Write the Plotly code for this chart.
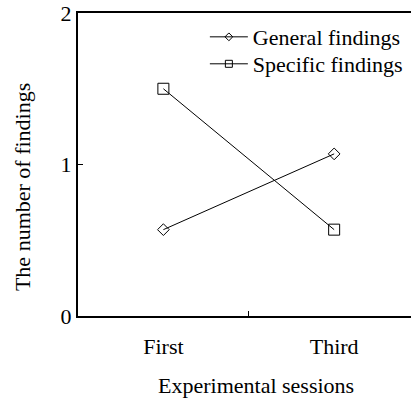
import plotly.graph_objects as go

sessions = ["First", "Third"]
general = [0.57, 1.07]
specific = [1.5, 0.57]
y_ticks = [0, 1, 2]

FONT = "Liberation Serif, Times New Roman, serif"
FS = 22

fig = go.Figure()
fig.add_trace(go.Scatter(x=sessions, y=general, mode="lines+markers", name="General findings",
                         line=dict(color="black", width=1),
                         marker=dict(symbol="diamond-open", size=9, color="black", line=dict(width=1)),
                         showlegend=False))
fig.add_trace(go.Scatter(x=sessions, y=specific, mode="lines+markers", name="Specific findings",
                         line=dict(color="black", width=1),
                         marker=dict(symbol="square-open", size=11, color="black", line=dict(width=1)),
                         showlegend=False))
# legend entries with smaller symbols
fig.add_trace(go.Scatter(x=[None], y=[None], mode="lines+markers", name="General findings",
                         line=dict(color="black", width=1), legend="legend",
                         marker=dict(symbol="diamond-open", size=6, color="black", line=dict(width=1))))
fig.add_trace(go.Scatter(x=[None], y=[None], mode="lines+markers", name="Specific findings",
                         line=dict(color="black", width=1), legend="legend2",
                         marker=dict(symbol="square-open", size=7, color="black", line=dict(width=1))))

legend_style = dict(xanchor="left", yanchor="top", bgcolor="rgba(0,0,0,0)",
                    font=dict(family=FONT, size=FS, color="black"), itemwidth=38)

fig.update_layout(
    width=411, height=400,
    margin=dict(l=78, r=0, t=13, b=84),
    paper_bgcolor="white", plot_bgcolor="white",
    font=dict(family=FONT, size=FS, color="black"),
    legend=dict(x=0.381, y=0.99, **legend_style),
    legend2=dict(x=0.381, y=0.901, **legend_style),
    xaxis=dict(type="category", categoryorder="array", categoryarray=sessions,
               range=[-0.5, 1.45], showgrid=False, zeroline=False,
               showline=True, linecolor="black", linewidth=2, mirror=True,
               ticks="inside", tickson="boundaries", ticklen=5, tickwidth=1, tickcolor="black",
               ticklabelstandoff=10,
               tickfont=dict(family=FONT, size=FS, color="black")),
    yaxis=dict(range=[0, 2], tickvals=y_ticks, showgrid=False, zeroline=False,
               showline=True, linecolor="black", linewidth=2,
               ticks="inside", ticklen=5, tickwidth=1, tickcolor="black",
               tickfont=dict(family=FONT, size=FS, color="black")),
    annotations=[
        dict(text="The number of findings", textangle=-90, xref="paper", yref="paper",
             x=-0.168, y=0.4257, xanchor="center", yanchor="middle", showarrow=False,
             font=dict(family=FONT, size=FS, color="black")),
        dict(text="Experimental sessions", xref="paper", yref="paper",
             x=0.5345, y=-0.231, xanchor="center", yanchor="middle", showarrow=False,
             font=dict(family=FONT, size=FS, color="black")),
    ],
)

fig.write_html("out.html", config={"displayModeBar": False},
               post_script="document.body.style.margin='0';")
